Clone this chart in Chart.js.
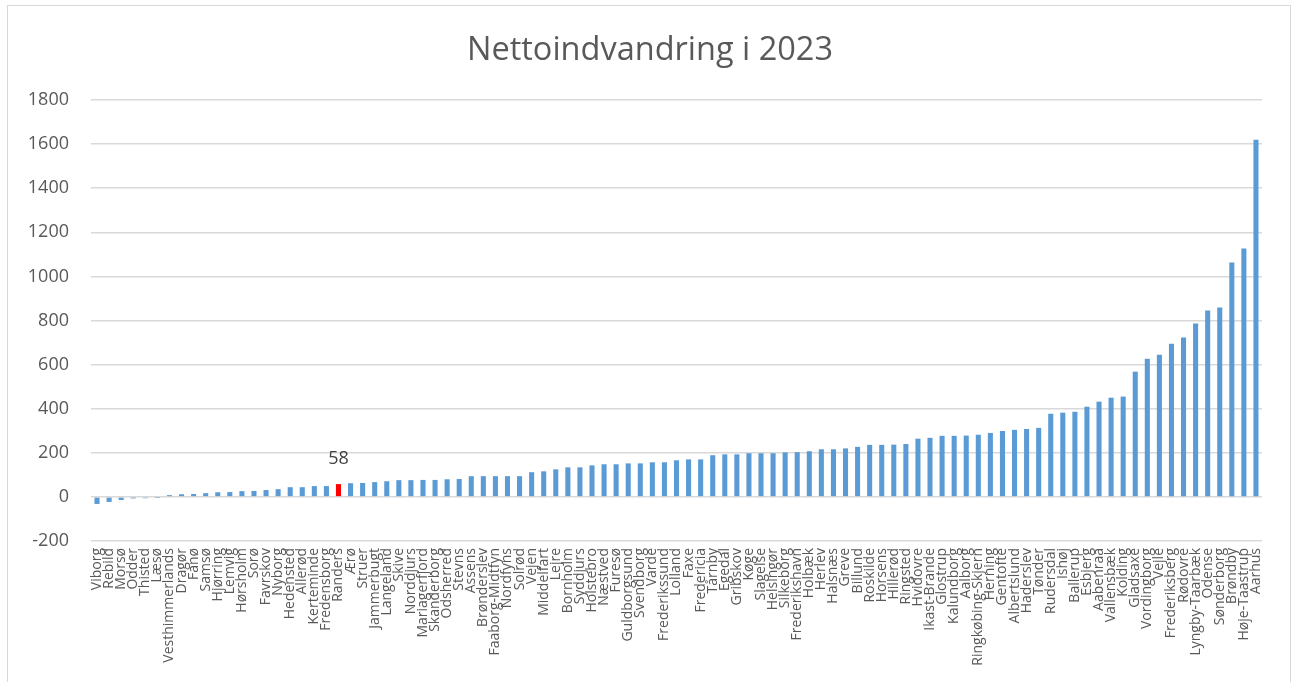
<!DOCTYPE html>
<html>
<head>
<meta charset="utf-8">
<script src="https://cdn.jsdelivr.net/npm/chart.js@4/dist/chart.umd.min.js"></script>
<style>
  html, body { margin: 0; padding: 0; background: #ffffff; }
  #wrap { position: relative; width: 1293px; height: 682px; }
  #frame { position: absolute; left: 7px; top: 5px; width: 1284px; height: 690px; border: 1px solid #d9d9d9; box-sizing: border-box; pointer-events: none; }
  canvas { position: absolute; left: 0; top: 0; }
</style>
</head>
<body>
<div id="wrap">
  <canvas id="c" width="1293" height="682"></canvas>
  <div id="frame"></div>
</div>
<script>
const titleText = "Nettoindvandring i 2023";

const municipalities = [
  "Viborg","Rebild","Morsø","Odder","Thisted","Læsø","Vesthimmerlands","Dragør","Fanø","Samsø",
  "Hjørring","Lemvig","Hørsholm","Sorø","Favrskov","Nyborg","Hedensted","Allerød","Kerteminde","Fredensborg",
  "Randers","Ærø","Struer","Jammerbugt","Langeland","Skive","Norddjurs","Mariagerfjord","Skanderborg","Odsherred",
  "Stevns","Assens","Brønderslev","Faaborg-Midtfyn","Nordfyns","Solrød","Vejen","Middelfart","Lejre","Bornholm",
  "Syddjurs","Holstebro","Næstved","Furesø","Guldborgsund","Svendborg","Varde","Frederikssund","Lolland","Faxe",
  "Fredericia","Tårnby","Egedal","Gribskov","Køge","Slagelse","Helsingør","Silkeborg","Frederikshavn","Holbæk",
  "Herlev","Halsnæs","Greve","Billund","Roskilde","Horsens","Hillerød","Ringsted","Hvidovre","Ikast-Brande",
  "Glostrup","Kalundborg","Aalborg","Ringkøbing-Skjern","Herning","Gentofte","Albertslund","Haderslev","Tønder","Rudersdal",
  "Ishøj","Ballerup","Esbjerg","Aabenraa","Vallensbæk","Kolding","Gladsaxe","Vordingborg","Vejle","Frederiksberg",
  "Rødovre","Lyngby-Taarbæk","Odense","Sønderborg","Brøndby","Høje-Taastrup","Aarhus"
];

const netMigration = [
  -32,-23,-14,-7,-6,-1,8,12,13,17,
  21,22,26,27,31,35,44,44,49,49,
  58,62,63,67,71,76,76,77,77,80,
  81,94,94,94,94,94,112,116,125,134,
  134,143,148,148,152,152,157,157,166,170,
  170,189,193,193,198,198,198,202,203,207,
  216,216,220,227,236,236,237,240,264,268,
  277,277,278,282,290,299,304,308,313,377,
  382,386,409,432,450,455,568,627,645,695,
  723,786,845,859,1063,1127,1620
];

const highlighted = "Randers";
const yTicks = [-200,0,200,400,600,800,1000,1200,1400,1600,1800];

const baseColor = "#5b9bd5";
const highlightColor = "#ff0000";
const barColors = municipalities.map(m => m === highlighted ? highlightColor : baseColor);

const labelPlugin = {
  id: "highlightLabel",
  afterDatasetsDraw(chart) {
    const idx = municipalities.indexOf(highlighted);
    const meta = chart.getDatasetMeta(0);
    const bar = meta.data[idx];
    const ctx = chart.ctx;
    ctx.save();
    ctx.font = "18px 'Open Sans', sans-serif";
    ctx.fillStyle = "#404040";
    ctx.textAlign = "center";
    ctx.textBaseline = "middle";
    ctx.fillText(String(netMigration[idx]), bar.x, bar.y - 25);
    ctx.restore();
  }
};

const titlePlugin = {
  id: "centeredTitle",
  afterDraw(chart) {
    const ctx = chart.ctx;
    ctx.save();
    ctx.font = "32.5px 'Open Sans', sans-serif";
    ctx.fillStyle = "#595959";
    ctx.textAlign = "center";
    ctx.textBaseline = "middle";
    ctx.fillText(titleText, 650, 51);
    ctx.restore();
  }
};

new Chart(document.getElementById("c"), {
  type: "bar",
  data: {
    labels: municipalities,
    datasets: [{
      data: netMigration,
      backgroundColor: barColors,
      borderWidth: 0,
      barPercentage: 0.42,
      categoryPercentage: 1.0
    }]
  },
  options: {
    responsive: false,
    animation: false,
    layout: { padding: { left: 0, right: 31, top: 100, bottom: 0 } },
    plugins: {
      legend: { display: false },
      tooltip: { enabled: false },
      title: { display: false }
    },
    scales: {
      x: {
        grid: { display: false, drawTicks: false },
        border: { display: false },
        ticks: {
          autoSkip: false,
          minRotation: 90,
          maxRotation: 90,
          padding: 7,
          color: "#595959",
          font: { family: "'Open Sans', sans-serif", size: 14 }
        },
        afterFit(scale) { scale.height = 141; }
      },
      y: {
        min: -200,
        max: 1800,
        afterBuildTicks(scale) { scale.ticks = yTicks.map(v => ({ value: v })); },
        grid: { color: "#d9d9d9", lineWidth: 1.5, drawTicks: false },
        border: { display: false },
        ticks: {
          padding: 22,
          color: "#595959",
          font: { family: "'Open Sans', sans-serif", size: 18 },
          callback: (v) => String(v)
        },
        afterFit(scale) { scale.width = 91; }
      }
    }
  },
  plugins: [labelPlugin, titlePlugin]
});
</script>
</body>
</html>
